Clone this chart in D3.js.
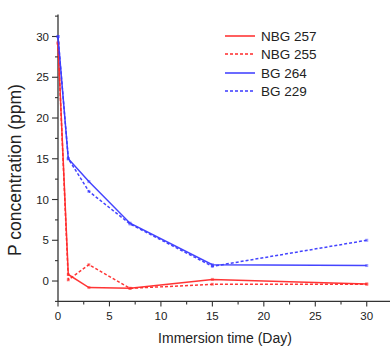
<!DOCTYPE html>
<html>
<head>
<meta charset="utf-8">
<script src="https://cdn.jsdelivr.net/npm/d3@7"></script>
<style>
  html, body { margin: 0; padding: 0; background: #fff; }
  svg { display: block; font-family: "Liberation Sans", Arial, sans-serif; }
</style>
</head>
<body>
<svg id="chart" width="390" height="349"></svg>
<script>
// ---- data ----
const days = [0, 1, 3, 7, 15, 30];
const nbg257 = [29.2, 0.8, -0.8, -0.9, 0.2, -0.35];
const nbg255 = [29.2, 0.15, 2.0, -0.9, -0.4, -0.4];
const bg264 = [30, 15.0, 12.2, 7.1, 2.0, 1.9];
const bg229 = [30, 15.0, 11.0, 7.0, 1.8, 5.0];
const seriesNames = ["NBG 257", "NBG 255", "BG 264", "BG 229"];
const xTicks = [0, 5, 10, 15, 20, 25, 30];
const yTicks = [0, 5, 10, 15, 20, 25, 30];

const red = "#ff2a2a", blue = "#3a3aff";
const series = [
  { name: seriesNames[0], values: nbg257, color: red, dash: null },
  { name: seriesNames[1], values: nbg255, color: red, dash: "3,2" },
  { name: seriesNames[2], values: bg264, color: blue, dash: null },
  { name: seriesNames[3], values: bg229, color: blue, dash: "3,2" }
];

const svg = d3.select("#chart");
const x = d3.scaleLinear().domain([0, 32.26]).range([58, 390]);
const y = d3.scaleLinear().domain([-2.5, 32.7]).range([301.4, 14.5]);
const axisColor = "#333";

// minor ticks
const xMinor = d3.range(0, 32.5, 2.5).filter(v => v % 5 !== 0);
const yMinor = d3.range(-2.5, 33, 2.5).filter(v => v % 5 !== 0);

// x axis
const gx = svg.append("g").attr("transform", `translate(0,${y.range()[0]})`);
gx.append("line").attr("x1", x.range()[0]).attr("x2", x.range()[1])
  .attr("stroke", axisColor).attr("stroke-width", 1.3);
gx.selectAll(".maj").data(xTicks).join("line")
  .attr("x1", d => x(d)).attr("x2", d => x(d)).attr("y1", 0).attr("y2", 5)
  .attr("stroke", axisColor).attr("stroke-width", 1.1);
gx.selectAll(".min").data(xMinor).join("line")
  .attr("x1", d => x(d)).attr("x2", d => x(d)).attr("y1", 0).attr("y2", 3)
  .attr("stroke", axisColor).attr("stroke-width", 1.1);
gx.selectAll("text").data(xTicks).join("text")
  .attr("x", d => x(d)).attr("y", 19).attr("text-anchor", "middle")
  .attr("font-size", "11.5px").attr("fill", "#222").text(d => d);

// y axis
const gy = svg.append("g").attr("transform", `translate(${x.range()[0]},0)`);
gy.append("line").attr("y1", y.range()[0]).attr("y2", y.range()[1])
  .attr("stroke", axisColor).attr("stroke-width", 1.3);
gy.selectAll(".maj").data(yTicks).join("line")
  .attr("y1", d => y(d)).attr("y2", d => y(d)).attr("x1", 0).attr("x2", -6)
  .attr("stroke", axisColor).attr("stroke-width", 1.1);
gy.selectAll(".min").data(yMinor).join("line")
  .attr("y1", d => y(d)).attr("y2", d => y(d)).attr("x1", 0).attr("x2", -3)
  .attr("stroke", axisColor).attr("stroke-width", 1.1);
gy.selectAll("text").data(yTicks).join("text")
  .attr("x", -9).attr("y", d => y(d)).attr("dy", "0.36em").attr("text-anchor", "end")
  .attr("font-size", "11.5px").attr("fill", "#222").text(d => d);

// axis titles
svg.append("text").attr("x", 225).attr("y", 343).attr("text-anchor", "middle")
  .attr("font-size", "14px").attr("fill", "#222").text("Immersion time (Day)");
svg.append("text").attr("transform", "translate(21,170) rotate(-90)")
  .attr("text-anchor", "middle").attr("font-size", "17.5px").attr("fill", "#222")
  .text("P concentration (ppm)");

// lines
const line = d3.line().x((d, i) => x(days[i])).y(d => y(d));
series.forEach(s => {
  svg.append("path").datum(s.values).attr("d", line)
    .attr("fill", "none").attr("stroke", s.color).attr("stroke-width", 1.5)
    .attr("stroke-dasharray", s.dash).attr("stroke-opacity", 0.95);
  svg.selectAll(null).data(s.values).join("rect")
    .attr("x", (d, i) => x(days[i]) - 1.5).attr("y", d => y(d) - 1.5)
    .attr("width", 3).attr("height", 3)
    .attr("fill", s.color).attr("fill-opacity", 0.5);
});

// legend
const lg = svg.append("g");
const legendY = [36, 54, 73, 91];
series.forEach((s, i) => {
  lg.append("line").attr("x1", 225).attr("x2", 255)
    .attr("y1", legendY[i]).attr("y2", legendY[i])
    .attr("stroke", s.color).attr("stroke-width", 1.5).attr("stroke-dasharray", s.dash);
  lg.append("text").attr("x", 261).attr("y", legendY[i]).attr("dy", "0.36em")
    .attr("font-size", "13.5px").attr("fill", "#222").text(s.name);
});
</script>
</body>
</html>
